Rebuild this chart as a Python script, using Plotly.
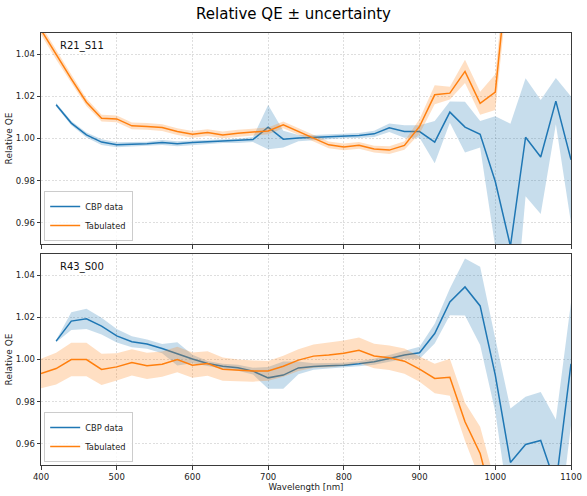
import plotly.graph_objects as go

wavelength = list(range(400, 1101, 20))
cbp_wl = list(range(420, 1101, 20))

# Top panel R21_S11
top_cbp = [1.016, 1.0073, 1.0017, 0.9983, 0.9970, 0.9972, 0.9975, 0.9981, 0.9975, 0.9981,
           0.9984, 0.9989, 0.9989, 0.9995, 1.0054, 0.9997, 1.0002, 1.0005, 1.0008, 1.0013,
           1.0014, 1.0022, 1.0051, 1.0033, 1.0033, 0.9983, 1.0125, 1.0054, 1.0020, 0.9796,
           0.9490, 1.0006, 0.9912, 1.0177, 0.9899]
top_cbp_err = [0.0008, 0.0010, 0.0012, 0.0014, 0.0012, 0.0010, 0.0010, 0.0012, 0.0012, 0.0010,
               0.0010, 0.0010, 0.0010, 0.0012, 0.0105, 0.0040, 0.0015, 0.0012, 0.0012, 0.0012,
               0.0012, 0.0015, 0.0020, 0.0030, 0.0030, 0.0100, 0.0050, 0.0120, 0.0063, 0.0310,
               0.0580, 0.0280, 0.0270, 0.0110, 0.0300]
top_tab = [1.0515, 1.0396, 1.0283, 1.0172, 1.0096, 1.0093, 1.0060, 1.0057, 1.0052, 1.0033,
           1.0020, 1.0028, 1.0017, 1.0025, 1.0030, 1.0036, 1.0065, 1.0033, 1.0002, 0.9970,
           0.9960, 0.9968, 0.9950, 0.9945, 0.9967, 1.0057, 1.0207, 1.0215, 1.0318, 1.0167,
           1.0220, 1.0920, 1.1200, 1.1400, 1.1500, 1.1600]
top_tab_err = [0.0022, 0.0022, 0.0020, 0.0018, 0.0016, 0.0016, 0.0016, 0.0016, 0.0016, 0.0016,
               0.0016, 0.0016, 0.0016, 0.0016, 0.0016, 0.0016, 0.0016, 0.0016, 0.0016, 0.0016,
               0.0016, 0.0016, 0.0016, 0.0018, 0.0020, 0.0035, 0.0045, 0.0030, 0.0055, 0.0055,
               0.0085, 0.0100, 0.0100, 0.0100, 0.0100, 0.0100]

# Bottom panel R43_S00
bot_cbp = [1.0087, 1.0182, 1.0193, 1.0158, 1.0112, 1.0084, 1.0073, 1.0052, 1.0027, 1.0002,
           0.9981, 0.9968, 0.9961, 0.9945, 0.9913, 0.9926, 0.9960, 0.9967, 0.9970, 0.9973,
           0.9980, 0.9989, 1.0005, 1.0021, 1.0032, 1.0123, 1.0273, 1.0344, 1.0254, 0.9926,
           0.9512, 0.9597, 0.9616, 0.9406, 0.9980]
bot_cbp_err = [0.0005, 0.0042, 0.0048, 0.0040, 0.0032, 0.0026, 0.0022, 0.0022, 0.0055, 0.0020,
               0.0012, 0.0012, 0.0014, 0.0016, 0.0052, 0.0065, 0.0030, 0.0015, 0.0013, 0.0012,
               0.0012, 0.0014, 0.0016, 0.0018, 0.0028, 0.0047, 0.0063, 0.0135, 0.0185, 0.0174,
               0.0256, 0.0226, 0.0230, 0.0310, 0.0290]
bot_tab = [0.9934, 0.9957, 1.0000, 1.0000, 0.9953, 0.9965, 0.9986, 0.9970, 0.9978, 1.0000,
           0.9973, 0.9981, 0.9954, 0.9948, 0.9945, 0.9946, 0.9968, 0.9997, 1.0016, 1.0021,
           1.0030, 1.0044, 1.0017, 1.0008, 0.9992, 0.9954, 0.9910, 0.9916, 0.9705, 0.9555,
           0.9250, 0.9000, 0.8800, 0.8600, 0.8400, 0.8200]
bot_tab_err = [0.0070, 0.0075, 0.0079, 0.0079, 0.0074, 0.0065, 0.0062, 0.0062, 0.0060, 0.0060,
               0.0060, 0.0058, 0.0055, 0.0052, 0.0050, 0.0047, 0.0050, 0.0052, 0.0055, 0.0058,
               0.0060, 0.0060, 0.0058, 0.0058, 0.0060, 0.0060, 0.0070, 0.0088, 0.0090, 0.0126,
               0.0140, 0.0150, 0.0150, 0.0150, 0.0150, 0.0150]

panel_names = ["R21_S11", "R43_S00"]
series_names = ["CBP data", "Tabulated"]
BLUE = "#1f77b4"
ORANGE = "#ff7f0e"
BLUE_FILL = "rgba(31,119,180,0.25)"
ORANGE_FILL = "rgba(255,127,14,0.25)"

fig = go.Figure()


def add_band(x, y, e, fill, xa, ya):
    up = [a + b for a, b in zip(y, e)]
    lo = [a - b for a, b in zip(y, e)]
    fig.add_trace(go.Scatter(x=list(x) + list(x)[::-1], y=up + lo[::-1], fill="toself",
                             fillcolor=fill, line=dict(width=0), mode="lines",
                             hoverinfo="skip", showlegend=False, xaxis=xa, yaxis=ya))


def add_line(x, y, color, name, xa, ya, legend):
    fig.add_trace(go.Scatter(x=x, y=y, mode="lines", line=dict(color=color, width=1.5),
                             name=name, xaxis=xa, yaxis=ya, legend=legend))


# top panel: x2/y2
add_band(cbp_wl, top_cbp, top_cbp_err, BLUE_FILL, "x2", "y2")
add_line(cbp_wl, top_cbp, BLUE, series_names[0], "x2", "y2", "legend")
add_band(wavelength, top_tab, top_tab_err, ORANGE_FILL, "x2", "y2")
add_line(wavelength, top_tab, ORANGE, series_names[1], "x2", "y2", "legend")

# bottom panel: x/y
add_band(cbp_wl, bot_cbp, bot_cbp_err, BLUE_FILL, "x", "y")
add_line(cbp_wl, bot_cbp, BLUE, series_names[0], "x", "y", "legend2")
add_band(wavelength, bot_tab, bot_tab_err, ORANGE_FILL, "x", "y")
add_line(wavelength, bot_tab, ORANGE, series_names[1], "x", "y", "legend2")

H_PLOT = 432.0
bot_dom = [0, 211 / H_PLOT]
top_dom = [221 / H_PLOT, 1]

axis_common = dict(showline=True, linecolor="#3a3a3a", linewidth=1, mirror=True,
                   ticks="outside", ticklen=3.5, tickcolor="#3a3a3a", tickwidth=1,
                   showgrid=True, gridcolor="rgba(0,0,0,0.13)", griddash="2px,1.6px", gridwidth=0.8,
                   zeroline=False, automargin=False, tickfont=dict(size=8.5, color="#222"))

fig.update_layout(
    width=587, height=496,
    margin=dict(l=41, r=16, t=33, b=31),
    paper_bgcolor="white", plot_bgcolor="white",
    font=dict(family="DejaVu Sans", color="#222"),
    title=dict(text="Relative QE ± uncertainty", x=0.5, xanchor="center", y=0.972,
               yanchor="middle", font=dict(size=15, color="black")),
    xaxis=dict(domain=[0, 1], range=[400, 1100], dtick=100, tick0=400, anchor="y",
               title=dict(text="Wavelength [nm]", font=dict(size=8.7), standoff=1), **axis_common),
    yaxis=dict(domain=bot_dom, range=[0.95, 1.05], dtick=0.02, tick0=0.96, tickformat=".2f",
               anchor="x", title=dict(text="Relative QE", font=dict(size=9), standoff=1),
               **axis_common),
    xaxis2=dict(domain=[0, 1], range=[400, 1100], dtick=100, tick0=400, anchor="y2",
                matches="x", showticklabels=False, **axis_common),
    yaxis2=dict(domain=top_dom, range=[0.95, 1.05], dtick=0.02, tick0=0.96, tickformat=".2f",
                anchor="x2", title=dict(text="Relative QE", font=dict(size=9), standoff=1),
                **axis_common),
    legend=dict(x=0.006, y=top_dom[0] + 0.007, xanchor="left", yanchor="bottom",
                bgcolor="rgba(255,255,255,0.8)", bordercolor="#cccccc", borderwidth=1,
                font=dict(size=8.3), tracegroupgap=0, itemwidth=30),
    legend2=dict(x=0.006, y=0.007, xanchor="left", yanchor="bottom",
                 bgcolor="rgba(255,255,255,0.8)", bordercolor="#cccccc", borderwidth=1,
                 font=dict(size=8.3), tracegroupgap=0, itemwidth=30),
    showlegend=True,
)

fig.add_annotation(text=panel_names[0], xref="x2 domain", yref="y2 domain", x=0.033, y=0.975,
                   xanchor="left", yanchor="top", showarrow=False, font=dict(size=10, color="#111"))
fig.add_annotation(text=panel_names[1], xref="x domain", yref="y domain", x=0.033, y=0.975,
                   xanchor="left", yanchor="top", showarrow=False, font=dict(size=10, color="#111"))

fig.write_html("out.html")
